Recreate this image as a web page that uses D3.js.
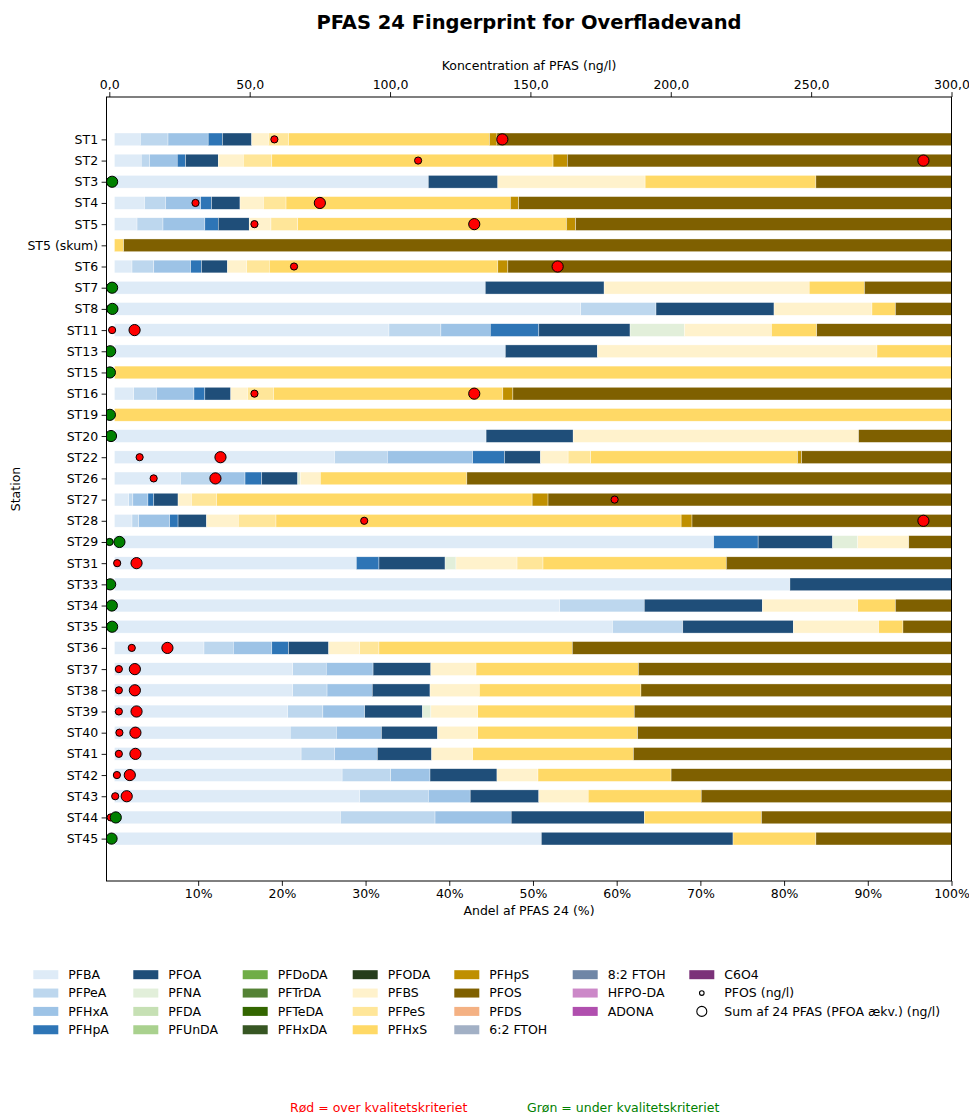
<!DOCTYPE html>
<html><head><meta charset="utf-8">
<script src="https://cdn.jsdelivr.net/npm/d3@7"></script>
<style>body{margin:0;background:#fff} svg text{font-family:"DejaVu Sans",sans-serif;fill:#000}</style>
</head><body><svg id="c" width="969" height="1115" xmlns="http://www.w3.org/2000/svg"></svg>
<script>
// ---------- DATA ----------
const stations = ["ST1","ST2","ST3","ST4","ST5","ST5 (skum)","ST6","ST7","ST8","ST11","ST13","ST15","ST16","ST19","ST20","ST22","ST26","ST27","ST28","ST29","ST31","ST33","ST34","ST35","ST36","ST37","ST38","ST39","ST40","ST41","ST42","ST43","ST44","ST45"];

const compounds = ["PFBA","PFPeA","PFHxA","PFHpA","PFOA","PFNA","PFDA","PFUnDA","PFDoDA","PFTrDA","PFTeDA","PFHxDA","PFODA","PFBS","PFPeS","PFHxS","PFHpS","PFOS","PFDS","6:2 FTOH","8:2 FTOH","HFPO-DA","ADONA","C6O4"];
const compoundColors = ["#deebf7","#bdd7ee","#9dc3e6","#2e75b6","#1f4e79","#e2efda","#c6e0b4","#a9d18e","#70ad47","#548235","#336600","#375623","#263d1b","#fff2cc","#ffe699","#ffd966","#bf8f00","#7f6000","#f4b183","#a2b0c5","#6f86a6","#cc88c8","#b04fae","#7b3279"];

// share of PFAS 24 (%) per station, in station order
const PFBA   = [3.1,3.2,37.5,3.6,2.7,0,2.1,44.3,55.7,32.8,46.7,0,2.3,0,44.4,26.3,7.9,1.7,2.1,71.6,28.9,80.7,53.2,59.5,10.7,21.3,21.3,20.7,21.0,22.3,27.2,29.3,27.0,51.0];
const PFPeA  = [3.3,1.0,0,2.5,3.1,0,2.6,0,9.0,6.2,0,0,2.7,0,0,6.3,4.5,0.5,0.8,0,0,0,10.1,8.4,3.5,4.0,4.1,4.2,5.5,4.0,5.8,8.2,11.3,0];
const PFHxA  = [4.8,3.3,0,4.2,5.0,0,4.4,0,0,5.9,0,0,4.5,0,0,10.2,3.2,1.8,3.7,0,0,0,0,0,4.6,5.6,5.4,5.0,5.4,5.1,4.7,5.0,9.1,0];
const PFHpA  = [1.7,1.0,0,1.3,1.6,0,1.3,0,0,5.8,0,0,1.3,0,0,3.8,2.0,0.7,1.0,5.3,2.7,0,0,0,2.0,0,0,0,0,0,0,0,0,0];
const PFOA   = [3.5,3.9,8.3,3.4,3.7,0,3.1,14.2,14.1,10.9,11.0,0,3.1,0,10.4,4.3,4.3,2.9,3.4,8.9,7.9,19.3,14.1,13.2,4.8,6.9,6.9,6.9,6.7,6.5,8.0,8.2,15.9,22.9];
const PFNA   = [0,0,0,0,0,0,0,0,0,6.5,0,0,0,0,0,0,0.3,0,0,3.0,1.3,0,0,0,0,0,0,1.0,0,0,0,0,0,0];
const PFDA   = [0,0,0,0,0,0,0,0,0,0,0,0,0,0,0,0,0,0,0,0,0,0,0,0,0,0,0,0,0,0,0,0,0,0];
const PFUnDA = [0,0,0,0,0,0,0,0,0,0,0,0,0,0,0,0,0,0,0,0,0,0,0,0,0,0,0,0,0,0,0,0,0,0];
const PFDoDA = [0,0,0,0,0,0,0,0,0,0,0,0,0,0,0,0,0,0,0,0,0,0,0,0,0,0,0,0,0,0,0,0,0,0];
const PFTrDA = [0,0,0,0,0,0,0,0,0,0,0,0,0,0,0,0,0,0,0,0,0,0,0,0,0,0,0,0,0,0,0,0,0,0];
const PFTeDA = [0,0,0,0,0,0,0,0,0,0,0,0,0,0,0,0,0,0,0,0,0,0,0,0,0,0,0,0,0,0,0,0,0,0];
const PFHxDA = [0,0,0,0,0,0,0,0,0,0,0,0,0,0,0,0,0,0,0,0,0,0,0,0,0,0,0,0,0,0,0,0,0,0];
const PFODA  = [0,0,0,0,0,0,0,0,0,0,0,0,0,0,0,0,0,0,0,0,0,0,0,0,0,0,0,0,0,0,0,0,0,0];
const PFBS   = [2.0,3.0,17.6,2.8,2.6,0,2.3,24.5,11.7,10.4,33.4,0,2.0,0,34.1,3.3,2.4,1.6,3.8,6.1,7.3,0,11.4,10.2,3.7,5.4,5.9,5.6,4.8,4.9,4.9,5.9,0,0];
const PFPeS  = [2.4,3.4,0,2.7,3.2,0,2.7,0,0,0,0,0,3.1,0,0,2.7,0,3.0,4.5,0,3.1,0,0,0,2.3,0,0,0,0,0,0,0,0,0];
const PFHxS  = [24.0,33.6,20.4,26.8,32.1,1.1,27.3,6.6,2.8,5.4,8.9,100,27.4,100,0,24.7,17.5,37.7,48.4,0,21.9,0,4.5,2.9,23.1,19.4,19.3,18.7,19.1,19.2,15.9,13.5,14.0,9.9];
const PFHpS  = [0.9,1.7,0,1.0,1.1,0,1.2,0,0,0,0,0,1.2,0,0,0.5,0,1.9,1.3,0,0,0,0,0,0,0,0,0,0,0,0,0,0,0];
const PFOS   = [54.3,45.9,16.2,51.7,44.9,98.9,53.0,10.4,6.7,16.1,0,0,52.4,0,11.1,17.9,57.9,48.2,31.0,5.1,26.9,0,6.7,5.8,45.3,37.4,37.1,37.9,37.5,38.0,33.5,29.9,22.7,16.2];
const PFDS   = [0,0,0,0,0,0,0,0,0,0,0,0,0,0,0,0,0,0,0,0,0,0,0,0,0,0,0,0,0,0,0,0,0,0];
const FTOH62 = [0,0,0,0,0,0,0,0,0,0,0,0,0,0,0,0,0,0,0,0,0,0,0,0,0,0,0,0,0,0,0,0,0,0];
const FTOH82 = [0,0,0,0,0,0,0,0,0,0,0,0,0,0,0,0,0,0,0,0,0,0,0,0,0,0,0,0,0,0,0,0,0,0];
const HFPODA = [0,0,0,0,0,0,0,0,0,0,0,0,0,0,0,0,0,0,0,0,0,0,0,0,0,0,0,0,0,0,0,0,0,0];
const ADONA  = [0,0,0,0,0,0,0,0,0,0,0,0,0,0,0,0,0,0,0,0,0,0,0,0,0,0,0,0,0,0,0,0,0,0];
const C6O4   = [0,0,0,0,0,0,0,0,0,0,0,0,0,0,0,0,0,0,0,0,0,0,0,0,0,0,0,0,0,0,0,0,0,0];

// concentrations (ng/l) on top axis; null = outside the 0-300 axis range
const pfosNgL = [58.8,110,0.0,30.7,51.7,null,65.8,0.1,0.2,1.0,0.1,0.0,51.7,0.0,0.1,10.8,15.8,180,90.8,0.1,2.8,0.1,0.1,0.1,8.0,3.4,3.4,3.4,3.6,3.4,2.7,2.1,0.5,0.1];
const sumNgL  = [140,290,1.0,75,130,null,159.7,1.0,1.1,9.0,0.3,0.2,130,0.2,0.6,39.6,37.8,null,290,3.6,9.7,0.3,0.9,1.0,20.7,9.1,9.1,9.7,9.3,9.3,7.3,6.2,2.3,0.8];
// true = over quality criterion (red), false = under (green)
const pfosOver = [true,true,false,true,true,true,true,false,false,true,false,false,true,false,false,true,true,true,true,false,true,false,false,false,true,true,true,true,true,true,true,true,true,false];
const sumOver  = [true,true,false,true,true,true,true,false,false,true,false,false,true,false,false,true,true,true,true,false,true,false,false,false,true,true,true,true,true,true,true,true,false,false];

const topTicks = [0,50,100,150,200,250,300];
const bottomTicks = [10,20,30,40,50,60,70,80,90,100];

const seriesArrays = [PFBA,PFPeA,PFHxA,PFHpA,PFOA,PFNA,PFDA,PFUnDA,PFDoDA,PFTrDA,PFTeDA,PFHxDA,PFODA,PFBS,PFPeS,PFHxS,PFHpS,PFOS,PFDS,FTOH62,FTOH82,HFPODA,ADONA,C6O4];

// ---------- CHART ----------
const svg = d3.select("#c");
const L = 106.5, R = 951.5, T = 97, B = 881;
const FS = 12.5;
const x  = d3.scaleLinear().domain([-0.95, 100]).range([L, R]);
const xc = d3.scaleLinear().domain([-1, 300]).range([L, R]);
const y  = d3.scaleLinear().domain([-2, stations.length + 1]).range([T, B]);
const bh = (y(1) - y(0)) * 0.6;
const color = d3.scaleOrdinal().domain(compounds).range(compoundColors);

const rows = stations.map((s, i) => {
  const o = {station: s, idx: i};
  compounds.forEach((c, k) => o[c] = seriesArrays[k][i]);
  return o;
});
const stacked = d3.stack().keys(compounds)(rows);

svg.append("defs").append("clipPath").attr("id", "clip")
  .append("rect").attr("x", L).attr("y", T).attr("width", R - L).attr("height", B - T);

const barG = svg.append("g");
stacked.forEach(series => {
  barG.append("g").attr("fill", color(series.key))
    .selectAll("rect").data(series.filter(d => d[1] - d[0] > 0)).join("rect")
    .attr("x", d => x(d[0]))
    .attr("width", d => x(d[1]) - x(d[0]))
    .attr("y", d => y(d.data.idx) - bh / 2)
    .attr("height", bh)
    .attr("stroke", "#ffffff").attr("stroke-width", 0.5).attr("stroke-opacity", 0.7);
});

// markers
const mk = svg.append("g").attr("clip-path", "url(#clip)");
mk.selectAll("circle.pfos").data(stations.map((s, i) => i).filter(i => pfosNgL[i] !== null)).join("circle")
  .attr("class", "pfos")
  .attr("cx", i => xc(pfosNgL[i])).attr("cy", i => y(i)).attr("r", 3.6)
  .attr("fill", i => pfosOver[i] ? "#ff0000" : "#008000")
  .attr("stroke", "#000").attr("stroke-width", 1);
mk.selectAll("circle.sum").data(stations.map((s, i) => i).filter(i => sumNgL[i] !== null)).join("circle")
  .attr("class", "sum")
  .attr("cx", i => xc(sumNgL[i])).attr("cy", i => y(i)).attr("r", 5.6)
  .attr("fill", i => sumOver[i] ? "#ff0000" : "#008000")
  .attr("stroke", "#000").attr("stroke-width", 1);

// frame
svg.append("rect").attr("x", L).attr("y", T).attr("width", R - L).attr("height", B - T)
  .attr("fill", "none").attr("stroke", "#000").attr("stroke-width", 1);

function styleAxis(g) {
  g.select(".domain").remove();
  g.selectAll(".tick line").attr("stroke", "#000").attr("stroke-width", 0.9);
  g.selectAll(".tick text").attr("font-size", FS).attr("font-family", "DejaVu Sans").attr("fill", "#000");
}
const fmtComma = d => d.toFixed(1).replace(".", ",");
svg.append("g").attr("transform", `translate(0,${T})`)
  .call(d3.axisTop(xc).tickValues(topTicks).tickFormat(fmtComma).tickSize(4.9).tickPadding(3.5))
  .call(styleAxis);
svg.append("g").attr("transform", `translate(0,${B})`)
  .call(d3.axisBottom(x).tickValues(bottomTicks).tickFormat(d => d + "%").tickSize(4.9).tickPadding(3.5))
  .call(styleAxis);
svg.append("g").attr("transform", `translate(${L},0)`)
  .call(d3.axisLeft(y).tickValues(stations.map((s, i) => i)).tickFormat(i => stations[i]).tickSize(4.9).tickPadding(3.5))
  .call(styleAxis);

// titles
svg.append("text").attr("x", (L + R) / 2).attr("y", 29).attr("text-anchor", "middle")
  .attr("font-size", 19.5).attr("font-weight", "bold").text("PFAS 24 Fingerprint for Overfladevand");
svg.append("text").attr("x", (L + R) / 2).attr("y", 69.5).attr("text-anchor", "middle")
  .attr("font-size", FS).text("Koncentration af PFAS (ng/l)");
svg.append("text").attr("x", (L + R) / 2).attr("y", 915).attr("text-anchor", "middle")
  .attr("font-size", FS).text("Andel af PFAS 24 (%)");
svg.append("text").attr("transform", `translate(20,${(T + B) / 2}) rotate(-90)`).attr("text-anchor", "middle")
  .attr("font-size", FS).text("Station");

// legend
const legendItems = compounds.map(c => ({label: c, type: "rect"}))
  .concat([{label: "PFOS (ng/l)", type: "small"}, {label: "Sum af 24 PFAS (PFOA ækv.) (ng/l)", type: "big"}]);
const colSizes = [4, 4, 4, 4, 4, 3, 3];
const colX = [33.3, 133.3, 242.7, 352.7, 454.3, 572.7, 689.3];
const rowY0 = 974.7, rowDY = 18.35;
let k = 0;
const lg = svg.append("g");
colSizes.forEach((n, ci) => {
  for (let r = 0; r < n; r++, k++) {
    const it = legendItems[k];
    const cy = rowY0 + r * rowDY;
    if (it.type === "rect") {
      lg.append("rect").attr("x", colX[ci]).attr("y", cy - 4.5).attr("width", 25).attr("height", 9)
        .attr("fill", color(it.label));
    } else {
      lg.append("circle").attr("cx", colX[ci] + 12.5).attr("cy", cy)
        .attr("r", it.type === "small" ? 2.3 : 5).attr("fill", "none").attr("stroke", "#000").attr("stroke-width", 1.1);
    }
    lg.append("text").attr("x", colX[ci] + 35).attr("y", cy).attr("dy", "0.35em")
      .attr("font-size", FS).text(it.label);
  }
});

svg.append("text").attr("x", 290).attr("y", 1112).attr("font-size", FS)
  .style("fill", "#ff0000").text("Rød = over kvalitetskriteriet");
svg.append("text").attr("x", 527).attr("y", 1112).attr("font-size", FS)
  .style("fill", "#008000").text("Grøn = under kvalitetskriteriet");
</script></body></html>
